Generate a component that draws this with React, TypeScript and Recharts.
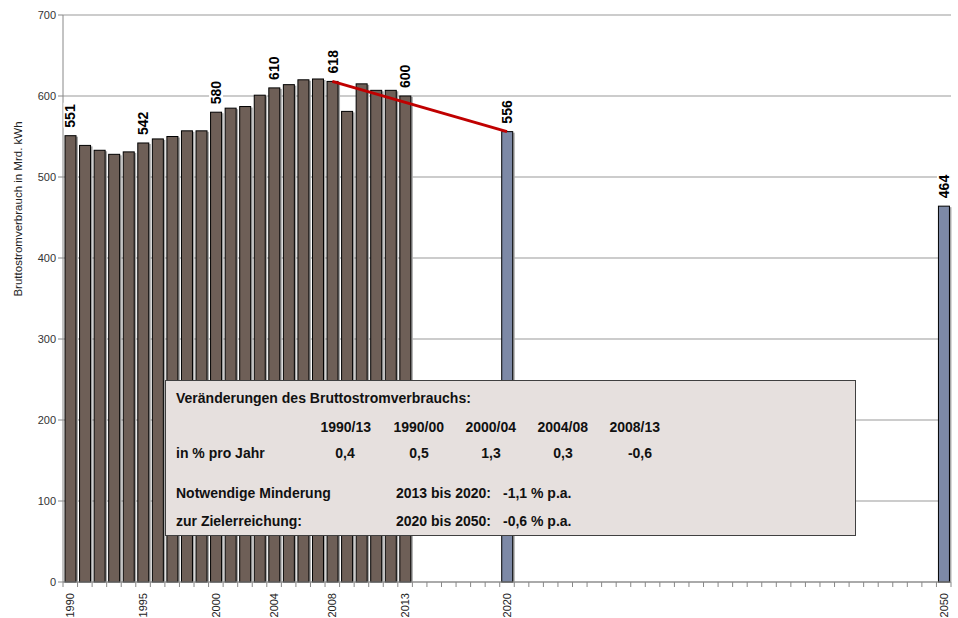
import { ComposedChart, Bar, Line, XAxis, YAxis, CartesianGrid, LabelList } from 'recharts';

const FONT = '"Liberation Sans", Arial, sans-serif';

// history 1990..2013
const histYears = [1990, 1991, 1992, 1993, 1994, 1995, 1996, 1997, 1998, 1999, 2000, 2001, 2002, 2003, 2004, 2005, 2006, 2007, 2008, 2009, 2010, 2011, 2012, 2013];
const histValues = [551, 539, 533, 528, 531, 542, 547, 550, 557, 557, 580, 585, 587, 601, 610, 614, 620, 621, 618, 581, 615, 607, 607, 600];

// targets
const targetYears = [2020, 2050];
const targetValues = [556, 464];

// red trend line 2008 -> 2020
const trendYears = [2008, 2020];
const trendValues = [618, 556];

const labelYears = [1990, 1995, 2000, 2004, 2008, 2013, 2020, 2050];
const tickYears = [1990, 1995, 2000, 2004, 2008, 2013, 2020, 2050];
const yTicks = [0, 100, 200, 300, 400, 500, 600, 700];

const firstYear = 1990;
const lastYear = 2050;

const data: any[] = [];
for (let y = firstYear; y <= lastYear; y++) {
  const hi = histYears.indexOf(y);
  const ti = targetYears.indexOf(y);
  const tr = trendYears.indexOf(y);
  data.push({
    year: String(y),
    hist: hi >= 0 ? histValues[hi] : null,
    target: ti >= 0 ? targetValues[ti] : null,
    trend: tr >= 0 ? trendValues[tr] : null,
    label: labelYears.includes(y) ? (hi >= 0 ? histValues[hi] : ti >= 0 ? targetValues[ti] : null) : null,
  });
}

const ShadowBar = (props: any) => {
  const { x, y, width, height, fill } = props;
  if (!height || height <= 0) return null;
  return (
    <g>
      <rect x={x + 2} y={y + 1} width={width} height={height - 1} fill="#A6A6A6" />
      <rect x={x} y={y} width={width} height={height} fill={fill} stroke="#000" strokeWidth={1} />
    </g>
  );
};

const XTick = (props: any) => {
  const { x, y, payload } = props;
  const half = 888 / 61 / 2;
  const yr = Number(payload.value);
  const ay = y - 6; // axis line position
  return (
    <g>
      <line x1={x - half} x2={x - half} y1={ay} y2={ay + 5} stroke="#888" />
      {yr === lastYear && <line x1={x + half} x2={x + half} y1={ay} y2={ay + 5} stroke="#888" />}
      {tickYears.includes(yr) && (
        <text
          x={x}
          y={ay + 11}
          transform={`rotate(-90 ${x} ${ay + 11})`}
          textAnchor="end"
          dominantBaseline="central"
          fontSize={11}
          fill="#222"
          fontFamily={FONT}
        >
          {payload.value}
        </text>
      )}
    </g>
  );
};

const ValueLabel = (props: any) => {
  const { x, y, width, value } = props;
  if (value == null) return null;
  const cx = x + width / 2;
  const ty = y - 8;
  return (
    <g>
      <rect x={cx - 7} y={ty - 25} width={14} height={25} fill="#fff" />
      <text
        x={cx}
        y={ty}
        transform={`rotate(-90 ${cx} ${ty})`}
        textAnchor="start"
        dominantBaseline="central"
        fontSize={14}
        fontWeight="bold"
        fill="#000"
        fontFamily={FONT}
      >
        {value}
      </text>
    </g>
  );
};

const boxText: React.CSSProperties = { position: 'absolute', whiteSpace: 'nowrap', lineHeight: '18px' };

const App = () => {
  return (
    <div style={{ position: 'absolute', left: 0, top: 0, width: 958, height: 618, background: '#fff', fontFamily: FONT }}>
      <ComposedChart
        width={958}
        height={618}
        data={data}
        margin={{ top: 15, right: 7, left: 0, bottom: 0 }}
        barCategoryGap={2}
      >
        <CartesianGrid vertical={false} stroke="#999" />
        <XAxis
          dataKey="year"
          interval={0}
          height={36}
          tickLine={false}
          axisLine={{ stroke: '#888' }}
          tick={<XTick />}
          tickMargin={0}
        />
        <YAxis
          domain={[0, 700]}
          ticks={yTicks}
          width={63}
          axisLine={{ stroke: '#888' }}
          tickLine={{ stroke: '#888' }}
          tickSize={5}
          tick={{ fontSize: 11, fill: '#333', fontFamily: FONT }}
        />
        <Bar dataKey="hist" stackId="a" fill="#6E5F57" shape={<ShadowBar />} isAnimationActive={false} />
        <Bar dataKey="target" stackId="a" fill="#7D89A6" shape={<ShadowBar />} isAnimationActive={false}>
          <LabelList dataKey="label" content={<ValueLabel />} />
        </Bar>
        <Line
          dataKey="trend"
          stroke="#C00000"
          strokeWidth={3}
          dot={false}
          connectNulls
          isAnimationActive={false}
        />
        <text
          x={18}
          y={209}
          transform="rotate(-90 18 209)"
          textAnchor="middle"
          dominantBaseline="central"
          fontSize={11.5}
          fill="#222"
          fontFamily={FONT}
        >
          Bruttostromverbrauch in Mrd. kWh
        </text>
      </ComposedChart>

      <div
        style={{
          position: 'absolute',
          left: 165,
          top: 380,
          width: 689,
          height: 154,
          background: '#E6E0DE',
          border: '1px solid #404040',
          fontWeight: 'bold',
          fontSize: 14,
          color: '#111',
        }}
      >
        <div style={{ ...boxText, left: 10, top: 8 }}>Veränderungen des Bruttostromverbrauchs:</div>
        <div style={{ ...boxText, right: 484, top: 37 }}>1990/13</div>
        <div style={{ ...boxText, right: 411, top: 37 }}>1990/00</div>
        <div style={{ ...boxText, right: 339, top: 37 }}>2000/04</div>
        <div style={{ ...boxText, right: 267, top: 37 }}>2004/08</div>
        <div style={{ ...boxText, right: 195, top: 37 }}>2008/13</div>
        <div style={{ ...boxText, left: 10, top: 63 }}>in % pro Jahr</div>
        <div style={{ ...boxText, left: 164, width: 30, textAlign: 'center', top: 63 }}>0,4</div>
        <div style={{ ...boxText, left: 238, width: 30, textAlign: 'center', top: 63 }}>0,5</div>
        <div style={{ ...boxText, left: 310, width: 30, textAlign: 'center', top: 63 }}>1,3</div>
        <div style={{ ...boxText, left: 382, width: 30, textAlign: 'center', top: 63 }}>0,3</div>
        <div style={{ ...boxText, right: 203, top: 63 }}>-0,6</div>
        <div style={{ ...boxText, left: 10, top: 103 }}>Notwendige Minderung</div>
        <div style={{ ...boxText, left: 230, top: 103 }}>2013 bis 2020:</div>
        <div style={{ ...boxText, left: 337, top: 103 }}>-1,1 % p.a.</div>
        <div style={{ ...boxText, left: 10, top: 131 }}>zur Zielerreichung:</div>
        <div style={{ ...boxText, left: 230, top: 131 }}>2020 bis 2050:</div>
        <div style={{ ...boxText, left: 337, top: 131 }}>-0,6 % p.a.</div>
      </div>
    </div>
  );
};

export default App;
